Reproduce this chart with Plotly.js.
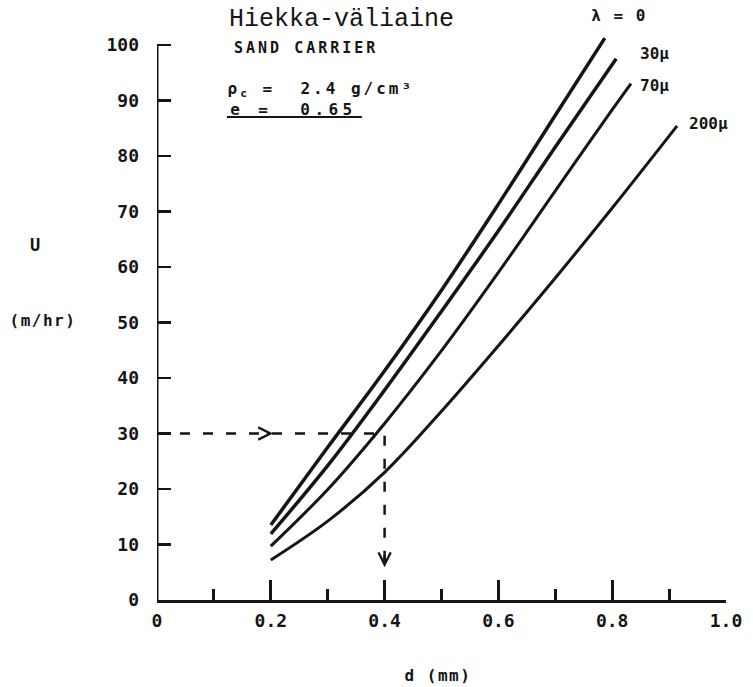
<!DOCTYPE html>
<html>
<head>
<meta charset="utf-8">
<script src="https://cdn.plot.ly/plotly-3.0.1.min.js"></script>
<style>
html,body{margin:0;padding:0;background:#fff;}
#chart{width:753px;height:687px;}
.annotation[data-index="1"] text{letter-spacing:3px;}
.annotation[data-index="2"] text{letter-spacing:3px;}
.annotation[data-index="3"] text{letter-spacing:4.4px;}
.annotation[data-index="4"] text{letter-spacing:1.5px;}
.annotation[data-index="9"] text{letter-spacing:1.5px;}
.annotation[data-index="10"] text{letter-spacing:1.5px;}
</style>
</head>
<body>
<div id="chart"></div>
<script>
// Curves: U (m/hr) vs d (mm) for different lambda
const dLam0   = [0.2, 0.3, 0.4, 0.5, 0.6, 0.7, 0.787];
const uLam0   = [13.5, 27.5, 41.3, 55.8, 71.3, 87.3, 101.2];
const dLam30  = [0.2, 0.3, 0.4, 0.5, 0.6, 0.7, 0.807];
const uLam30  = [11.9, 24.2, 37.8, 52.0, 66.5, 81.6, 97.5];
const dLam70  = [0.2, 0.3, 0.4, 0.5, 0.6, 0.7, 0.8, 0.833];
const uLam70  = [9.7, 19.9, 31.8, 44.9, 59.0, 73.7, 88.3, 93.0];
const dLam200 = [0.2, 0.3, 0.4, 0.5, 0.6, 0.7, 0.8, 0.914];
const uLam200 = [7.2, 14.2, 23.0, 34.0, 45.8, 58.0, 70.6, 85.4];
const seriesNames = ['λ = 0', '30μ', '70μ', '200μ'];

// Guide (dashed) path and arrow tips
const guideD = [0, 0.4, 0.4];
const guideU = [30, 30, 6];
const arrowTipD = [0.204, 0.4];
const arrowTipU = [30, 5.9];

// Ticks
const xTickVals = [0, 0.2, 0.4, 0.6, 0.8, 1.0];
const xTickText = ['0', '0.2', '0.4', '0.6', '0.8', '1.0'];
const xMinorVals = [0.1, 0.3, 0.5, 0.7, 0.9];
const yTickVals = [0, 10, 20, 30, 40, 50, 60, 70, 80, 90, 100];
const yTickText = ['0', '10', '20', '30', '40', '50', '60', '70', '80', '90', '100'];

const INK = '#151515';
const MONO = 'DejaVu Sans Mono';
const TYPEWRITER = 'Courier New, Nimbus Mono PS, FreeMono, Courier, Liberation Mono, monospace';

function curve(x, y, w, name) {
  return {x: x, y: y, type: 'scatter', mode: 'lines', name: name,
    line: {color: INK, width: w, shape: 'spline', smoothing: 1.0},
    hoverinfo: 'x+y+name', showlegend: false};
}

const traces = [
  curve(dLam0, uLam0, 3.5, seriesNames[0]),
  curve(dLam30, uLam30, 3.5, seriesNames[1]),
  curve(dLam70, uLam70, 3, seriesNames[2]),
  curve(dLam200, uLam200, 3, seriesNames[3]),
  {x: guideD, y: guideU, type: 'scatter', mode: 'lines', showlegend: false,
   line: {color: INK, width: 2.5, dash: '10px,13px'}, hoverinfo: 'skip'}
];

function txt(text, x, y, size, opts) {
  opts = opts || {};
  return {text: text, xref: 'paper', yref: 'paper', x: x, y: y,
    xanchor: 'center', yanchor: 'middle', showarrow: false,
    font: {family: opts.family || MONO, size: size, color: INK, weight: opts.weight || 'bold'}};
}

const annotations = [
  txt('Hiekka-väliaine', 0.325, 0.995, 25, {family: TYPEWRITER, weight: 'normal'}),
  txt('SAND CARRIER', 0.262, 0.947, 15),
  txt('ρ<sub>c</sub> =  2.4 g/cm³', 0.288, 0.876, 16),
  txt('e =  0.65', 0.240, 0.842, 16),
  txt(seriesNames[0], 0.812, 1.002, 16),
  txt(seriesNames[1], 0.875, 0.937, 16),
  txt(seriesNames[2], 0.875, 0.882, 16),
  txt(seriesNames[3], 0.970, 0.818, 16),
  txt('U', -0.214, 0.609, 17),
  txt('(m/hr)', -0.200, 0.480, 16),
  txt('d (mm)', 0.494, -0.129, 16),
  {x: arrowTipD[0], y: arrowTipU[0], ax: arrowTipD[0] - 0.012, ay: arrowTipU[0],
   xref: 'x', yref: 'y', axref: 'x', ayref: 'y', text: '', showarrow: true,
   arrowhead: 5, arrowsize: 1.0, arrowwidth: 2.4, arrowcolor: INK},
  {x: arrowTipD[1], y: arrowTipU[1], ax: arrowTipD[1], ay: arrowTipU[1] + 2.5,
   xref: 'x', yref: 'y', axref: 'x', ayref: 'y', text: '', showarrow: true,
   arrowhead: 5, arrowsize: 1.0, arrowwidth: 2.4, arrowcolor: INK}
];

const tickFont = {family: MONO, size: 18, color: INK, weight: 'bold'};

const layout = {
  width: 753, height: 687,
  margin: {l: 157, r: 27, t: 17, b: 87, pad: 0},
  paper_bgcolor: '#ffffff', plot_bgcolor: '#ffffff',
  showlegend: false,
  font: {family: MONO, color: INK},
  xaxis: {
    range: [0, 1.0], showgrid: false, zeroline: false,
    showline: true, linewidth: 3, linecolor: INK,
    ticks: 'inside', ticklen: 20, tickwidth: 3, tickcolor: INK,
    tickmode: 'array', tickvals: xTickVals, ticktext: xTickText,
    tickfont: tickFont, ticklabelstandoff: 2,
    minor: {tickmode: 'array', tickvals: xMinorVals, ticks: 'inside', ticklen: 11, tickwidth: 3, tickcolor: INK, showgrid: false},
    fixedrange: true
  },
  yaxis: {
    range: [0, 105], showgrid: false, zeroline: false, showline: false,
    ticks: 'inside', ticklen: 14, tickwidth: 2.5, tickcolor: INK,
    tickmode: 'array', tickvals: yTickVals, ticktext: yTickText,
    tickfont: tickFont, ticklabelstandoff: 17,
    fixedrange: true
  },
  shapes: [
    {type: 'line', xref: 'x', yref: 'y', x0: 0, x1: 0, y0: 0, y1: 100,
     line: {color: INK, width: 3}},
    {type: 'line', xref: 'paper', yref: 'paper', x0: 0.123, x1: 0.360, y0: 0.8285, y1: 0.8285,
     line: {color: INK, width: 2}}
  ],
  annotations: annotations
};

Plotly.newPlot('chart', traces, layout, {staticPlot: true, displayModeBar: false});
</script>
</body>
</html>
